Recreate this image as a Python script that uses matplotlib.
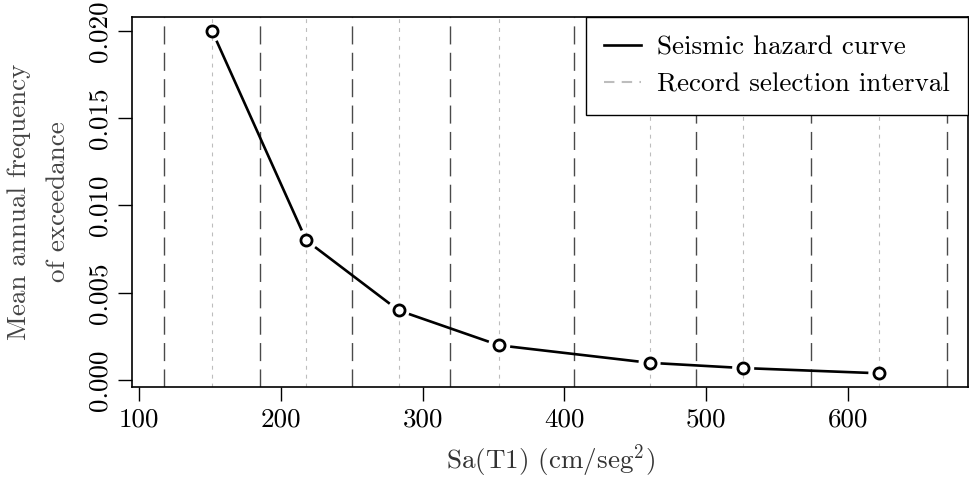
import numpy as np
import matplotlib
matplotlib.use("Agg")
import matplotlib.pyplot as plt
from matplotlib.lines import Line2D

plt.rcParams['font.family'] = ['cmr10', 'DejaVu Serif']
plt.rcParams['mathtext.fontset'] = 'cm'
plt.rcParams['axes.formatter.use_mathtext'] = True

# hazard curve points (Sa in cm/seg^2, mean annual frequency of exceedance)
sa_points = [151.5, 218, 283, 354, 460, 526, 622]
freq_points = [0.020, 0.008, 0.004, 0.002, 0.001, 0.0007, 0.0004]
# limits of the record selection intervals
interval_bounds = [118, 185, 250, 319, 407, 493, 574, 670]

x_ticks = [100, 200, 300, 400, 500, 600]
y_ticks = [0.000, 0.005, 0.010, 0.015, 0.020]
y_tick_labels = ['0.000', '0.005', '0.010', '0.015', '0.020']

FS = 19.5
W, H = 970, 478
fig = plt.figure(figsize=(W / 100, H / 100), dpi=100)
ax = fig.add_axes([132 / W, 1 - 387 / H, (968 - 132) / W, (387 - 17) / H])
ax.set_xlim(95.1, 684.5)
ax.set_ylim(-0.000384, 0.020784)

for b in interval_bounds:
    ax.axvline(b, color='#4a4a4a', lw=1.0, dashes=(13, 6), zorder=1)
for s in sa_points:
    ax.axvline(s, color='#bdbdbd', lw=0.8, dashes=(3.5, 4.5), zorder=1)

# R type="b": segments between points with a gap around each point
fig.canvas.draw()
pts = ax.transData.transform(np.column_stack([sa_points, freq_points]))
gap = 11
inv = ax.transData.inverted()
for p0, p1 in zip(pts[:-1], pts[1:]):
    d = p1 - p0
    L = np.hypot(*d)
    if L <= 2 * gap:
        continue
    u = d / L
    seg = inv.transform(np.array([p0 + u * gap, p1 - u * gap]))
    ax.plot(seg[:, 0], seg[:, 1], color='black', lw=1.9, zorder=3,
            solid_capstyle='butt')
ax.plot(sa_points, freq_points, linestyle='none', marker='o', ms=8,
        mfc='white', mec='black', mew=2.0, zorder=4)

ax.set_xticks(x_ticks)
ax.set_xticklabels([str(v) for v in x_ticks])
ax.set_yticks(y_ticks)
ax.set_yticklabels(y_tick_labels, rotation=90, va='center')
ax.tick_params(axis='both', direction='out', length=10, width=1.0,
               labelsize=FS, colors='black', pad=5)
for sp in ax.spines.values():
    sp.set_linewidth(1.2)

ax.set_xlabel(r'Sa(T1) (cm/seg$^{2}$)', fontsize=FS, color='#333333',
              labelpad=8)
fig.text(19 / W, 1 - 202 / H, 'Mean annual frequency', rotation=90,
         ha='center', va='center', fontsize=FS, color='#444444')
fig.text(58 / W, 1 - 202 / H, 'of exceedance', rotation=90,
         ha='center', va='center', fontsize=FS, color='#444444')

handles = [Line2D([], [], color='black', lw=1.9),
           Line2D([], [], color='#bdbdbd', lw=1.5, dashes=(5, 3.5))]
leg = ax.legend(handles, ['Seismic hazard curve', 'Record selection interval'],
                loc='upper right', borderaxespad=0, fancybox=False,
                framealpha=1, edgecolor='black', fontsize=FS,
                handlelength=1.35, handletextpad=0.6, labelspacing=0.5,
                borderpad=0.68)
leg.get_frame().set_linewidth(1.0)

fig.savefig('out.png', dpi=100)
